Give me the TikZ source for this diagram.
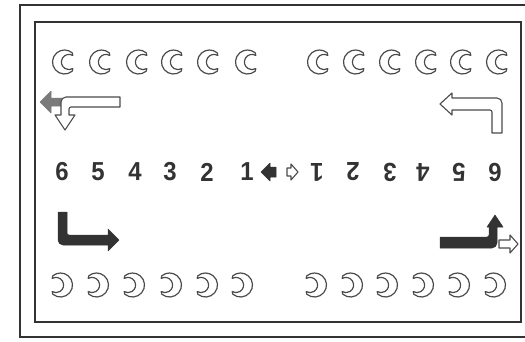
\documentclass[tikz,border=0pt]{standalone}
\usepackage{fontspec}
\setmainfont{Liberation Sans}
\usepackage{tikz}
\usetikzlibrary{positioning, calc}
\definecolor{inkdark}{HTML}{333333}
\definecolor{inkmid}{HTML}{4A4A4A}
\definecolor{inkgrey}{HTML}{7A7A7A}
\tikzset{
  % --- frame ---
  frameline/.style={draw=inkdark, line width=1.4pt},
  % --- crescents ---
  moonline/.style={draw=inkmid, line width=1.2pt, fill=white, line join=round},
  moonup/.pic={
    \draw[moonline] (50:12) arc[start angle=50, end angle=310, radius=12]
      -- ([shift={(4.5,0)}]-60:7.6) arc[start angle=-60, end angle=-300, radius=7.6]
      -- cycle;
  },
  moondown/.pic={
    \begin{scope}[xscale=-1]
      \draw[moonline] (50:12) arc[start angle=50, end angle=310, radius=12]
        -- ([shift={(4.5,0)}]-60:7.6) arc[start angle=-60, end angle=-300, radius=7.6]
        -- cycle;
    \end{scope}
  },
  % --- numbers ---
  digit/.style={font=\fontsize{26}{26}\selectfont\bfseries, text=inkdark,
    inner sep=0pt, xscale=0.92},
  digitflip/.style={digit, rotate=180},
  % --- arrows ---
  hollowarrow/.style={draw=inkmid, line width=1.1pt, fill=white, line join=round},
  darkarrow/.style={fill=inkdark, draw=inkdark, line width=0.5pt, line join=round},
  greyarrow/.style={fill=inkgrey, draw=inkgrey, line width=0.5pt, line join=round},
}

\begin{document}
\begin{tikzpicture}[x=1pt, y=-1pt]
  \clip (0,0) rectangle (525,341);
  \fill[white] (0,0) rectangle (525,341);
  % ---- Frames ----
  \draw[frameline] (20,5) rectangle (540,337);
  \draw[frameline] (35,22) rectangle (521,322);
  % ---- Crescents: top row ----
  \foreach \x in {63,100,137,172,208,246,318,354,390,426,461,497}
    \pic at (\x+1.5,62) {moonup};
  % ---- Crescents: bottom row ----
  \foreach \x in {62,98,134,171,207,242,316,352,387,423,459,495}
    \pic at (\x-1.5,285) {moondown};
  % ---- Numbers: left half ----
  \foreach \x/\n in {62/6,98/5,135/4,170/3,207/2,247/1}
    \node[digit] (l\n) at (\x,172) {\n};
  % ---- Numbers: right half (turned) ----
  \foreach \x/\n in {317/1,353/2,390/3,423/4,459/5,495/6}
    \node[digitflip] (r\n) at (\x,172) {\n};
  % ---- Small arrows between halves ----
  \draw[darkarrow] (261,172) -- (270,163) -- (270,167) -- (276,167)
    -- (276,177) -- (270,177) -- (270,181) -- cycle;
  \draw[hollowarrow] (298,172) -- (291,164) -- (291,168) -- (287,168)
    -- (287,176) -- (291,176) -- (291,180) -- cycle;
  % ---- Top left: grey left arrow and hollow turn down ----
  \draw[greyarrow] (40,102) -- (51,91) -- (51,98) -- (62,98)
    -- (62,106) -- (51,106) -- (51,113) -- cycle;
  \draw[hollowarrow] (120,97) [rounded corners=5pt] -- (61,97)
    [sharp corners] -- (61,115) -- (55,115) -- (65,130) -- (75,115) -- (69,115)
    [rounded corners=2pt] -- (69,107) [sharp corners] -- (120,107) -- cycle;
  % ---- Top right: hollow turn left ----
  \draw[hollowarrow] (440,104) -- (452,93) -- (452,98) [rounded corners=5pt]
    -- (502,98) [sharp corners] -- (502,133) -- (492,133)
    [rounded corners=2pt] -- (492,110) [sharp corners] -- (452,110) -- (452,115) -- cycle;
  % ---- Bottom left: dark turn right ----
  \draw[darkarrow] (58,212) -- (67,212) [rounded corners=2pt] -- (67,235)
    [sharp corners] -- (108,235) -- (108,229) -- (119,240) -- (108,251) -- (108,245)
    [rounded corners=5pt] -- (58,245) [sharp corners] -- cycle;
  % ---- Bottom right: dark turn up and hollow right arrow ----
  \draw[darkarrow] (440,237) [rounded corners=2pt] -- (489,237) [sharp corners]
    -- (489,227) -- (487,227) -- (495,215) -- (503,227) -- (497,227)
    [rounded corners=5pt] -- (497,248) [sharp corners] -- (440,248) -- cycle;
  \draw[hollowarrow] (518,244) -- (510,235) -- (510,240) -- (499,240)
    -- (499,248) -- (510,248) -- (510,253) -- cycle;
\end{tikzpicture}
\end{document}
